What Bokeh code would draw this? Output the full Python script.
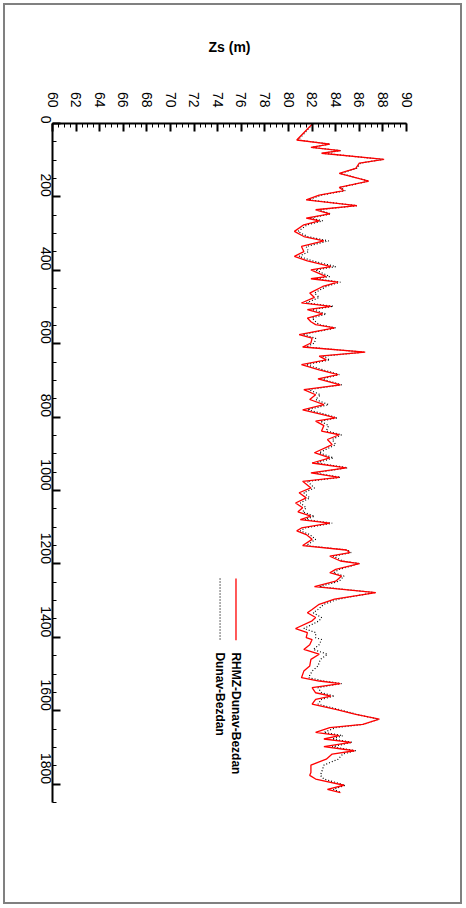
import math
from bokeh.plotting import figure
from bokeh.models import Range1d, FixedTicker, Label
from bokeh.embed import file_html
from bokeh.resources import INLINE

# ---- data ----
t_days = [2, 25, 45, 56, 65, 74, 81, 98, 108, 122, 136, 157, 174, 183, 195, 208, 224, 235, 246,
          258, 265, 276, 294, 308, 320, 335, 349, 362, 374, 390, 399, 417, 423, 432, 444, 462,
          474, 489, 498, 507, 519, 530, 540, 548, 557, 575, 585, 598, 609, 623, 634, 644, 657,
          671, 684, 696, 712, 725, 739, 752, 766, 780, 793, 802, 811, 823, 838, 848, 861, 875,
          897, 911, 925, 938, 952, 964, 975, 993, 1006, 1020, 1034, 1047, 1058, 1070, 1079,
          1089, 1102, 1110, 1120, 1133, 1150, 1162, 1169, 1179, 1192, 1199, 1215, 1224, 1233,
          1247, 1262, 1278, 1296, 1310, 1324, 1333, 1346, 1355, 1376, 1387, 1401, 1406, 1420,
          1433, 1446, 1460, 1478, 1492, 1510, 1519, 1526, 1537, 1551, 1560, 1569, 1582, 1596,
          1610, 1623, 1637, 1646, 1659, 1668, 1677, 1686, 1698, 1709, 1718, 1732, 1748, 1768,
          1776, 1786, 1803, 1814, 1823]

zs_rhmz = [82.0, 81.3, 80.7, 83.5, 81.9, 84.4, 82.8, 88.1, 86.0, 85.7, 84.3, 86.8, 84.3, 84.7,
           82.6, 81.5, 85.8, 82.3, 83.5,
           81.5, 82.6, 81.3, 80.5, 81.3, 83.0, 81.1, 81.3, 80.5, 81.6, 83.6, 81.9, 83.2, 81.9,
           84.2, 82.9, 81.8,
           82.2, 81.1, 83.6, 81.6, 82.9, 81.6, 81.9, 82.3, 83.9, 80.9, 82.0, 81.9, 81.2, 86.5,
           82.6, 83.2, 81.1,
           82.6, 84.2, 82.5, 84.4, 81.3, 82.3, 81.8, 83.0, 81.2, 82.9, 84.0, 82.3, 83.0, 82.8,
           84.3, 83.3, 83.7,
           82.2, 83.5, 82.0, 84.9, 81.9, 84.3, 81.2, 81.9, 80.9, 81.5, 80.6, 81.2, 80.8, 81.9,
           81.0,
           83.5, 81.1, 80.7, 81.5, 82.0, 81.2, 84.9, 85.2, 83.5, 84.4, 86.0, 84.0, 83.5, 84.5,
           84.0, 82.2, 87.4, 83.9, 82.6, 82.0, 81.6, 82.3, 82.0, 80.6, 81.6, 81.5, 82.0, 81.8,
           81.3, 82.6, 81.9, 81.8, 81.3, 81.1, 82.6, 84.4, 82.0, 82.3, 83.6, 82.3, 82.0, 84.0,
           85.7, 87.7, 86.3, 83.5, 82.3, 84.3, 83.0, 85.3, 83.0, 85.6, 83.7, 83.2, 81.9, 81.9,
           81.8, 82.3, 84.7, 83.3, 84.4]

zs_dunav = [82.0, 81.4, 80.8, 83.5, 82.0, 84.4, 82.9, 88.0, 86.1, 85.8, 84.4, 86.8, 84.4, 84.8,
            82.8, 81.7, 85.8, 82.5, 83.6,
            81.8, 82.9, 81.6, 80.8, 81.6, 83.4, 81.5, 81.7, 80.9, 82.0, 84.0, 82.3, 83.5, 82.3,
            84.4, 83.2, 82.2,
            82.6, 81.5, 83.8, 82.0, 83.2, 82.0, 82.3, 82.6, 84.0, 81.2, 82.3, 82.2, 81.5, 86.4,
            82.9, 83.5, 81.5,
            82.9, 84.3, 82.8, 84.5, 81.7, 82.7, 82.3, 83.4, 81.6, 83.2, 84.1, 82.7, 83.4, 83.2,
            84.5, 83.7, 84.0,
            82.6, 83.8, 82.4, 85.0, 82.2, 84.4, 81.6, 82.2, 81.3, 81.8, 81.0, 81.5, 81.2, 82.2,
            81.4,
            83.7, 81.4, 81.0, 81.8, 82.3, 81.5, 85.0, 85.3, 83.8, 84.6, 86.0, 84.3, 83.8, 84.7,
            84.3, 82.6, 87.3, 84.2, 83.0, 82.5, 82.1, 82.8, 82.6, 81.3, 82.3, 82.3, 82.8, 82.6,
            82.1, 83.3, 82.7, 82.5, 82.0, 81.7, 83.0, 84.5, 82.5, 82.8, 83.9, 82.8, 82.5, 84.2,
            85.8, 87.6, 86.4, 84.0, 83.0, 84.6, 83.7, 85.4, 83.7, 85.7, 84.6, 84.2, 83.0, 82.8,
            82.7, 83.0, 84.8, 83.8, 84.5]

zs_ticks = list(range(60, 91, 2))
zs_minor = [60 + 0.5 * i for i in range(61)]
t_ticks = list(range(0, 1801, 200))
t_minor = list(range(0, 1851, 50))
series_names = ["RHMZ-Dunav-Bezdan", "Dunav-Bezdan"]

FONT = "Liberation Sans"

p = figure(width=455, height=897, output_backend="svg", toolbar_location=None,
           x_range=Range1d(60, 90), y_range=Range1d(1850, 0),
           x_axis_location="above", y_axis_location="left",
           min_border_left=47, min_border_top=118, min_border_right=54, min_border_bottom=100)
p.styles = {"margin-left": "5px", "margin-top": "5px",
            "outline": "2px solid #808080", "outline-offset": "0px"}
p.outline_line_color = None
p.xgrid.visible = False
p.ygrid.visible = False
p.background_fill_color = "white"
p.border_fill_color = "white"

# data lines
p.line(zs_dunav, t_days, line_color="black", line_width=1.2, line_dash="1 2")
p.line(zs_rhmz, t_days, line_color="#ff0000", line_width=1.3)

# axes
for ax in (p.xaxis[0], p.yaxis[0]):
    ax.axis_line_color = "black"
    ax.axis_line_width = 2
    ax.major_tick_line_color = "black"
    ax.minor_tick_line_color = "black"
    ax.major_tick_line_width = 2
    ax.minor_tick_line_width = 1
    ax.major_tick_out = 0
    ax.minor_tick_out = 0
    ax.major_tick_in = 8
    ax.minor_tick_in = 4
    ax.major_label_text_font = FONT
    ax.major_label_text_font_size = "14px"
    ax.major_label_text_color = "black"
    ax.major_label_orientation = -math.pi / 2

p.xaxis[0].ticker = FixedTicker(ticks=zs_ticks, minor_ticks=zs_minor)
p.yaxis[0].ticker = FixedTicker(ticks=t_ticks, minor_ticks=t_minor)
p.xaxis[0].major_label_standoff = 16
p.yaxis[0].major_label_standoff = 7

p.xaxis[0].axis_label = "Zs (m)"
p.xaxis[0].axis_label_text_font = FONT
p.xaxis[0].axis_label_text_font_style = "bold"
p.xaxis[0].axis_label_text_font_size = "14px"
p.xaxis[0].axis_label_text_color = "black"
p.xaxis[0].axis_label_standoff = 34

# rotated t axis title
p.add_layout(Label(x=57.2, y=925, text="t (dan)", angle=-math.pi / 2,
                   text_align="center", text_baseline="middle",
                   text_font=FONT, text_font_style="bold", text_font_size="14px",
                   text_color="black"))

# legend (rotated, drawn by hand)
LEG_T0, LEG_T1, LEG_TXT = 1240, 1408, 1441
LEG_X_RED, LEG_X_BLK = 75.55, 74.2
p.line([LEG_X_RED, LEG_X_RED], [LEG_T0, LEG_T1], line_color="#ff0000", line_width=1.3)
p.line([LEG_X_BLK, LEG_X_BLK], [LEG_T0, LEG_T1], line_color="black", line_width=1.2,
       line_dash="1 2")
for xpos, name in zip([LEG_X_RED, LEG_X_BLK], series_names):
    p.add_layout(Label(x=xpos, y=LEG_TXT, text=name, angle=-math.pi / 2,
                       text_align="left", text_baseline="middle",
                       text_font=FONT, text_font_style="bold", text_font_size="12px",
                       text_color="black"))

open("out.html", "w").write(file_html(p, INLINE))
